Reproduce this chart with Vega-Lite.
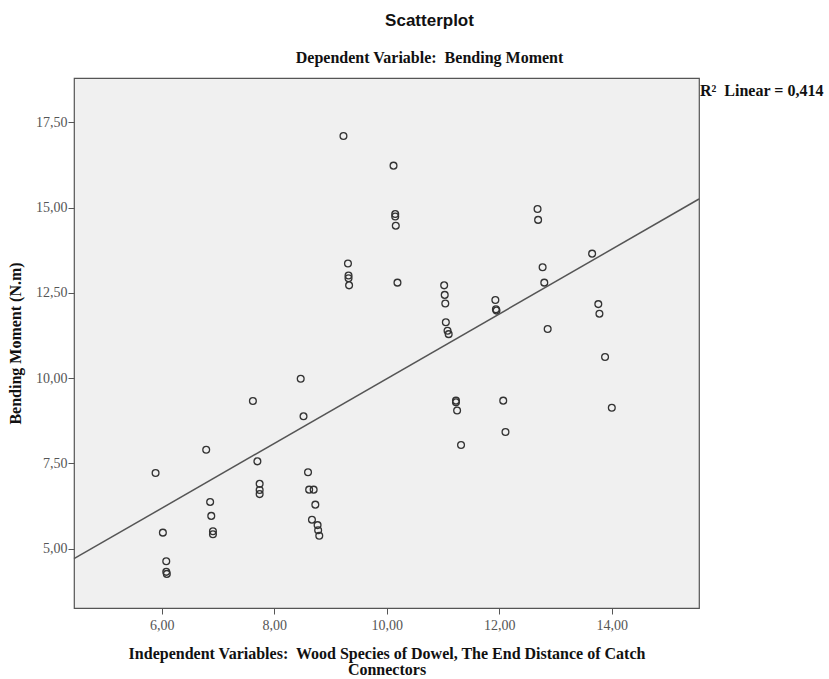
{
  "$schema": "https://vega.github.io/schema/vega-lite/v6.json",
  "width": 625,
  "height": 530,
  "autosize": "none",
  "padding": {"left": 74, "top": 78, "right": 130, "bottom": 71},
  "background": "white",
  "title": {
    "text": "Scatterplot",
    "subtitle": "Dependent Variable:\u00a0 Bending Moment",
    "anchor": "middle",
    "frame": "group",
    "dx": 43,
    "offset": 11,
    "font": "Liberation Sans",
    "fontSize": 17,
    "fontWeight": "bold",
    "color": "#111",
    "subtitleFont": "Liberation Serif",
    "subtitleFontSize": 16,
    "subtitleFontWeight": "bold",
    "subtitleColor": "#111",
    "subtitlePadding": 20
  },
  "config": {
    "view": {"stroke": "#555", "strokeWidth": 1.2, "fill": "#f0f0f0"},
    "axis": {
      "domain": false,
      "grid": false,
      "ticks": true,
      "tickColor": "#555",
      "tickSize": 6,
      "labelFont": "Liberation Serif",
      "labelFontSize": 14,
      "labelColor": "#555",
      "titleFont": "Liberation Serif",
      "titleFontSize": 16,
      "titleFontWeight": "bold",
      "titleColor": "#111"
    }
  },
  "datasets": {
    "points": [
      {"wood": 5.89, "moment": 7.22},
      {"wood": 6.02, "moment": 5.47},
      {"wood": 6.08, "moment": 4.63},
      {"wood": 6.08, "moment": 4.32},
      {"wood": 6.09, "moment": 4.26},
      {"wood": 6.79, "moment": 7.90},
      {"wood": 6.86, "moment": 6.37},
      {"wood": 6.88, "moment": 5.96},
      {"wood": 6.91, "moment": 5.51},
      {"wood": 6.91, "moment": 5.42},
      {"wood": 7.62, "moment": 9.33},
      {"wood": 7.70, "moment": 7.56},
      {"wood": 7.74, "moment": 6.90},
      {"wood": 7.74, "moment": 6.72},
      {"wood": 7.74, "moment": 6.60},
      {"wood": 8.47, "moment": 9.98},
      {"wood": 8.52, "moment": 8.88},
      {"wood": 8.60, "moment": 7.24},
      {"wood": 8.62, "moment": 6.73},
      {"wood": 8.70, "moment": 6.73},
      {"wood": 8.73, "moment": 6.29},
      {"wood": 8.67, "moment": 5.85},
      {"wood": 8.77, "moment": 5.69},
      {"wood": 8.78, "moment": 5.54},
      {"wood": 8.80, "moment": 5.38},
      {"wood": 9.23, "moment": 17.10},
      {"wood": 9.31, "moment": 13.36},
      {"wood": 9.32, "moment": 13.01},
      {"wood": 9.32, "moment": 12.93},
      {"wood": 9.33, "moment": 12.72},
      {"wood": 10.12, "moment": 16.23},
      {"wood": 10.15, "moment": 14.81},
      {"wood": 10.15, "moment": 14.74},
      {"wood": 10.16, "moment": 14.47},
      {"wood": 10.19, "moment": 12.80},
      {"wood": 11.02, "moment": 12.72},
      {"wood": 11.03, "moment": 12.44},
      {"wood": 11.04, "moment": 12.19},
      {"wood": 11.05, "moment": 11.64},
      {"wood": 11.08, "moment": 11.39},
      {"wood": 11.10, "moment": 11.29},
      {"wood": 11.23, "moment": 9.34},
      {"wood": 11.23, "moment": 9.29},
      {"wood": 11.25, "moment": 9.05},
      {"wood": 11.32, "moment": 8.04},
      {"wood": 11.93, "moment": 12.29},
      {"wood": 11.94, "moment": 12.02},
      {"wood": 11.95, "moment": 11.98},
      {"wood": 12.07, "moment": 9.34},
      {"wood": 12.11, "moment": 8.42},
      {"wood": 12.68, "moment": 14.96},
      {"wood": 12.69, "moment": 14.64},
      {"wood": 12.77, "moment": 13.25},
      {"wood": 12.80, "moment": 12.80},
      {"wood": 12.86, "moment": 11.44},
      {"wood": 13.65, "moment": 13.65},
      {"wood": 13.76, "moment": 12.17},
      {"wood": 13.78, "moment": 11.89},
      {"wood": 13.88, "moment": 10.62},
      {"wood": 14.00, "moment": 9.13}
    ],
    "fit": [{"label": "R²\u00a0 Linear = 0,414"}]
  },
  "layer": [
    {
      "data": {"name": "points"},
      "mark": {"type": "point", "shape": "circle", "filled": false, "size": 46, "stroke": "#333", "strokeWidth": 1.3, "opacity": 1},
      "encoding": {
        "x": {
          "field": "wood",
          "type": "quantitative",
          "scale": {"domain": [4.44, 15.55], "nice": false, "zero": false},
          "axis": {
            "title": ["Independent Variables:\u00a0 Wood Species of Dowel, The End Distance of Catch", "Connectors"],
            "values": [6, 8, 10, 12, 14],
            "labelExpr": "replace(format(datum.value, '.2f'), '.', ',')",
            "labelPadding": 4,
            "titlePadding": 13,
            "titleLineHeight": 16
          }
        },
        "y": {
          "field": "moment",
          "type": "quantitative",
          "scale": {"domain": [3.26, 18.8], "nice": false, "zero": false},
          "axis": {
            "title": "Bending Moment (N.m)",
            "values": [5, 7.5, 10, 12.5, 15, 17.5],
            "labelExpr": "replace(format(datum.value, '.2f'), '.', ',')",
            "labelPadding": 1,
            "titlePadding": 12
          }
        }
      }
    },
    {
      "data": {"name": "points"},
      "transform": [{"regression": "moment", "on": "wood", "extent": [4.44, 15.55]}],
      "mark": {"type": "line", "color": "#555", "strokeWidth": 1.5},
      "encoding": {
        "x": {"field": "wood", "type": "quantitative"},
        "y": {"field": "moment", "type": "quantitative"}
      }
    },
    {
      "data": {"name": "fit"},
      "mark": {"type": "text", "align": "left", "baseline": "alphabetic", "dx": 1, "font": "Liberation Serif", "fontSize": 16, "fontWeight": "bold", "fill": "#111"},
      "encoding": {
        "x": {"datum": 15.55, "type": "quantitative"},
        "y": {"datum": 18.28, "type": "quantitative"},
        "text": {"field": "label", "type": "nominal"}
      }
    }
  ]
}
